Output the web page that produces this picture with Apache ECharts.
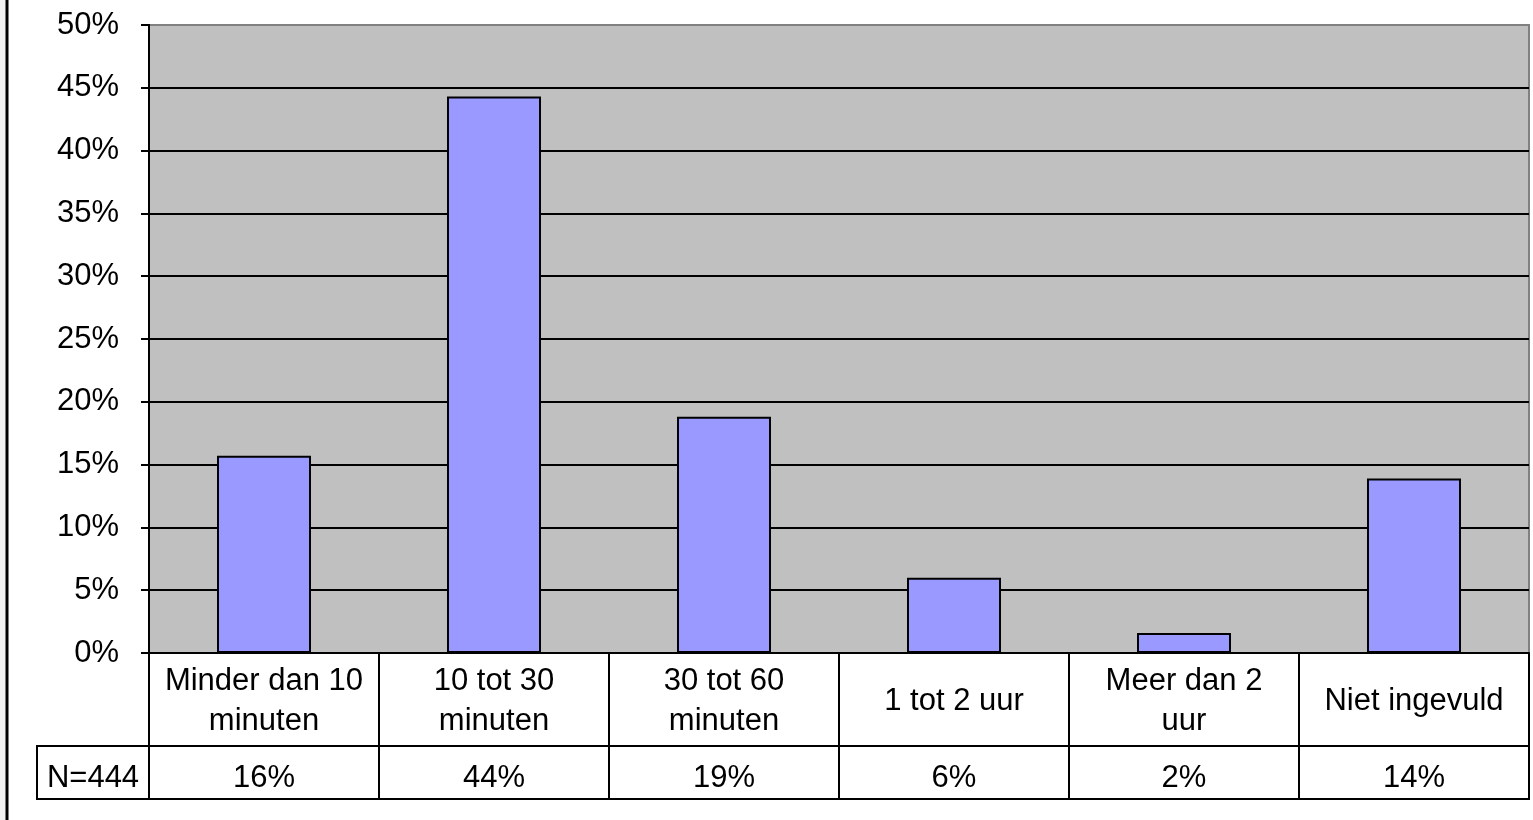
<!DOCTYPE html>
<html>
<head>
<meta charset="utf-8">
<script src="https://cdn.jsdelivr.net/npm/echarts@6/dist/echarts.min.js"></script>
<style>
html,body{margin:0;padding:0;background:#fff;}
#c{width:1533px;height:820px;}
</style>
</head>
<body>
<div id="c"></div>
<script>
var categories = ['Minder dan 10\nminuten', '10 tot 30\nminuten', '30 tot 60\nminuten', '1 tot 2 uur', 'Meer dan 2\nuur', 'Niet ingevuld'];
var values = [15.7, 44.3, 18.8, 6.0, 1.6, 13.9];
var tableLabels = ['16%', '44%', '19%', '6%', '2%', '14%'];
var tableHeader = 'N=444';
var yTicks = [0, 5, 10, 15, 20, 25, 30, 35, 40, 45, 50];

var chart = echarts.init(document.getElementById('c'));
var font = 'Liberation Sans, Arial, sans-serif';
var fs = 31;
var option = {
  animation: false,
  backgroundColor: '#fff',
  grid: {left: 149, right: 4, top: 25, bottom: 167, show: true, backgroundColor: '#C0C0C0', borderColor: '#808080', borderWidth: 2},
  xAxis: [{
    type: 'category', data: categories, position: 'bottom',
    axisLine: {show: true, lineStyle: {color: '#000', width: 2}},
    axisTick: {show: true, length: 93, lineStyle: {color: '#000', width: 2}},
    axisLabel: {interval: 0, margin: 48, verticalAlign: 'middle', fontSize: fs, lineHeight: 40, color: '#000', fontFamily: font}
  }, {
    type: 'category', data: tableLabels, position: 'bottom', offset: 93,
    axisLine: {show: true, lineStyle: {color: '#000', width: 2}},
    axisTick: {show: true, length: 53, lineStyle: {color: '#000', width: 2}},
    axisLabel: {interval: 0, margin: 32, verticalAlign: 'middle', fontSize: fs, color: '#000', fontFamily: font}
  }],
  yAxis: {
    type: 'value', min: yTicks[0], max: yTicks[yTicks.length - 1], interval: 5,
    axisLine: {show: true, lineStyle: {color: '#000', width: 2}},
    axisTick: {show: true, length: 8, lineStyle: {color: '#000', width: 2}},
    axisLabel: {formatter: '{value}%', fontSize: fs, color: '#000', margin: 30, fontFamily: font, padding: [6, 0, 0, 0]},
    splitLine: {show: true, lineStyle: {color: '#000', width: 2}}
  },
  series: [{
    type: 'bar', data: values, barWidth: 94, xAxisIndex: 0,
    itemStyle: {color: '#9999FF', borderColor: '#000', borderWidth: 2}
  }],
  graphic: [
    {type: 'line', z: 100, shape: {x1: 150, y1: 25, x2: 1530, y2: 25}, style: {stroke: '#808080', lineWidth: 2}},
    {type: 'rect', shape: {x: 37, y: 746, width: 112, height: 53}, style: {fill: '#fff', stroke: '#000', lineWidth: 2}},
    {type: 'text', x: 93, y: 778, style: {text: tableHeader, font: fs + 'px ' + font, fill: '#000', textAlign: 'center', textVerticalAlign: 'middle'}},
    {type: 'line', shape: {x1: 37, y1: 799, x2: 1530, y2: 799}, style: {stroke: '#000', lineWidth: 2}},
    {type: 'rect', shape: {x: 0, y: 0, width: 6, height: 820}, style: {fill: '#F2F2F2'}},
    {type: 'line', shape: {x1: 7, y1: 0, x2: 7, y2: 820}, style: {stroke: '#000', lineWidth: 3}}
  ]
};
chart.setOption(option);
</script>
</body>
</html>
